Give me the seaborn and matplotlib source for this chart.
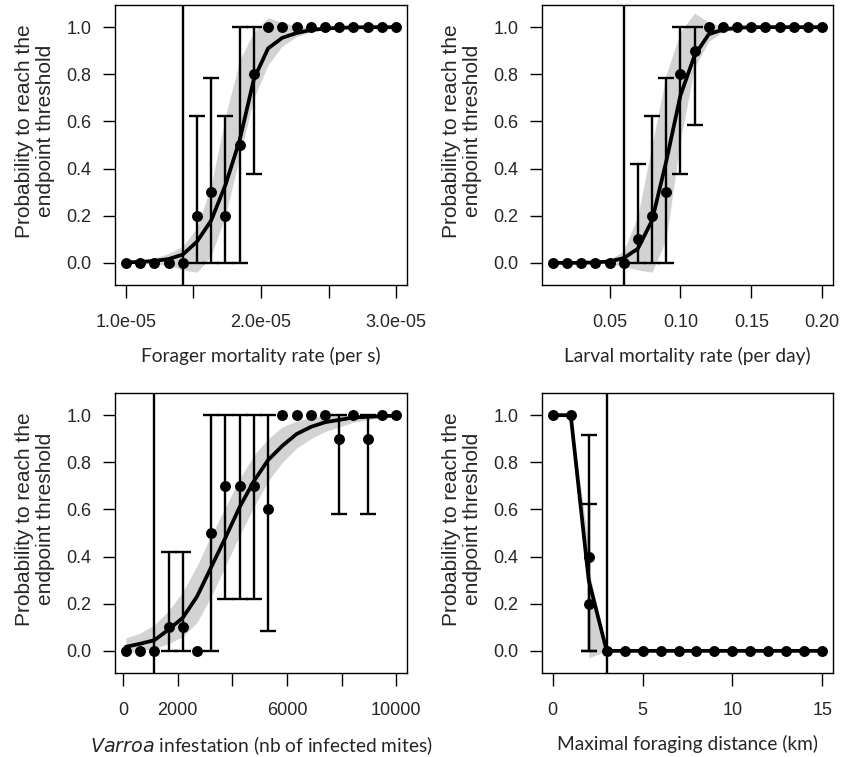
import numpy as np
import pandas as pd
import matplotlib
matplotlib.use("Agg")
import matplotlib.pyplot as plt
import seaborn as sns

# ---- panel 1 : forager mortality rate (per s)
forager_x = [1.0000e-05, 1.1053e-05, 1.2105e-05, 1.3158e-05, 1.4211e-05,
             1.5263e-05, 1.6316e-05, 1.7368e-05, 1.8421e-05, 1.9474e-05,
             2.0526e-05, 2.1579e-05, 2.2632e-05, 2.3684e-05, 2.4737e-05,
             2.5789e-05, 2.6842e-05, 2.7895e-05, 2.8947e-05, 3.0000e-05]
forager_p = [0, 0, 0, 0, 0, 0.2, 0.3, 0.2, 0.5, 0.8,
             1, 1, 1, 1, 1, 1, 1, 1, 1, 1]
forager_lo = [np.nan] * 5 + [0, 0, 0, 0, 0.379] + [np.nan] * 10
forager_hi = [np.nan] * 5 + [0.621, 0.783, 0.621, 1.0, 1.0] + [np.nan] * 10
forager_fit = [0.002, 0.004, 0.008, 0.016, 0.035, 0.09, 0.18, 0.33, 0.52, 0.78,
               0.91, 0.955, 0.975, 0.988, 0.994, 0.997, 0.999, 1, 1, 1]
forager_fit_lo = [0, 0, -0.005, -0.01, -0.03, -0.04, 0.03, 0.2, 0.45, 0.7,
                  0.84, 0.92, 0.96, 0.98, 0.99, 0.995, 1, 1, 1, 1]
forager_fit_hi = [0.004, 0.008, 0.02, 0.04, 0.07, 0.15, 0.33, 0.62, 0.86, 0.98,
                  1.04, 1.02, 1.005, 1, 1, 1, 1, 1, 1, 1]
forager_thr = 1.4211e-05

# ---- panel 2 : larval mortality rate (per day)
larval_x = [0.01, 0.02, 0.03, 0.04, 0.05, 0.06, 0.07, 0.08, 0.09, 0.10,
            0.11, 0.12, 0.13, 0.14, 0.15, 0.16, 0.17, 0.18, 0.19, 0.20]
larval_p = [0, 0, 0, 0, 0, 0, 0.1, 0.2, 0.3, 0.8,
            0.9, 1, 1, 1, 1, 1, 1, 1, 1, 1]
larval_lo = [np.nan] * 6 + [0, 0, 0, 0.379, 0.584] + [np.nan] * 9
larval_hi = [np.nan] * 6 + [0.418, 0.621, 0.783, 1.0, 1.0] + [np.nan] * 9
larval_fit = [0, 0, 0, 0.002, 0.006, 0.02, 0.06, 0.18, 0.43, 0.71,
              0.88, 0.97, 0.99, 0.997, 1, 1, 1, 1, 1, 1]
larval_fit_lo = [0, 0, 0, 0, -0.005, -0.015, -0.03, -0.04, 0.1, 0.52,
                 0.83, 0.94, 0.98, 0.995, 1, 1, 1, 1, 1, 1]
larval_fit_hi = [0, 0, 0, 0.005, 0.015, 0.05, 0.2, 0.5, 0.8, 0.98,
                 1.06, 1.02, 1.005, 1, 1, 1, 1, 1, 1, 1]
larval_thr = 0.06

# ---- panel 3 : Varroa infestation
varroa_x = [100, 621, 1142, 1663, 2184, 2705, 3226, 3747, 4268, 4789,
            5311, 5832, 6353, 6874, 7395, 7916, 8437, 8958, 9479, 10000]
varroa_p = [0, 0, 0, 0.1, 0.1, 0, 0.5, 0.7, 0.7, 0.7,
            0.6, 1, 1, 1, 1, 0.9, 1, 0.9, 1, 1]
varroa_lo = [np.nan, np.nan, np.nan, 0, 0, np.nan, 0, 0.218, 0.218, 0.218,
             0.085, np.nan, np.nan, np.nan, np.nan, 0.582, np.nan, 0.582, np.nan, np.nan]
varroa_hi = [np.nan, np.nan, np.nan, 0.418, 0.418, np.nan, 1, 1, 1, 1,
             1, np.nan, np.nan, np.nan, np.nan, 1, np.nan, 1, np.nan, np.nan]
varroa_fit = [0.017, 0.03, 0.045, 0.09, 0.14, 0.23, 0.355, 0.48, 0.61, 0.72,
              0.81, 0.87, 0.92, 0.95, 0.97, 0.98, 0.99, 0.993, 0.996, 0.998]
varroa_fit_lo = [-0.01, 0.0, 0.01, 0.03, 0.06, 0.12, 0.23, 0.36, 0.49, 0.61,
                 0.72, 0.8, 0.86, 0.9, 0.93, 0.95, 0.97, 0.98, 0.99, 0.99]
varroa_fit_hi = [0.055, 0.075, 0.11, 0.17, 0.25, 0.36, 0.49, 0.61, 0.73, 0.83,
                 0.9, 0.95, 0.975, 0.99, 1, 1, 1, 1, 1, 1]
varroa_thr = 1142

# ---- panel 4 : maximal foraging distance (km)
dist_x = [0, 1, 2, 2, 3, 4, 5, 6, 7, 8, 9, 10, 11, 12, 13, 14, 15]
dist_p = [1, 1, 0.4, 0.2, 0, 0, 0, 0, 0, 0, 0, 0, 0, 0, 0, 0, 0]
dist_lo = [np.nan, np.nan, 0, 0] + [np.nan] * 13
dist_hi = [np.nan, np.nan, 0.915, 0.621] + [np.nan] * 13
dist_fit = [1, 1, 0.3, 0.3, 0, 0, 0, 0, 0, 0, 0, 0, 0, 0, 0, 0, 0]
dist_fit_lo = [1, 1, 0.25, -0.03, 0, 0, 0, 0, 0, 0, 0, 0, 0, 0, 0, 0, 0]
dist_fit_hi = [1, 1, 0.45, 0.35, 0, 0, 0, 0, 0, 0, 0, 0, 0, 0, 0, 0, 0]
dist_thr = 3

ylab = "Probability to reach the\nendpoint threshold"

sns.set_style("ticks")
plt.rcParams['font.family'] = 'sans-serif'
plt.rcParams['font.sans-serif'] = ['Liberation Sans']

fig = plt.figure(figsize=(8.44, 7.57), dpi=100)
W, H = 844, 757


def panel(box, x, p, lo, hi, fit, fit_lo, fit_hi, thr, xlim, xticks, xticklabels, xlabel):
    l, t, r, b = box
    ax = fig.add_axes([l / W, 1 - b / H, (r - l) / W, (b - t) / H])
    df = pd.DataFrame({'x': x, 'p': p, 'lo': lo, 'hi': hi,
                       'fit': fit, 'fit_lo': fit_lo, 'fit_hi': fit_hi})
    ax.fill_between(df['x'], df['fit_lo'], df['fit_hi'], color='#d3d3d3', lw=0, zorder=1)
    sns.lineplot(data=df, x='x', y='fit', ax=ax, color='black', lw=2.7,
                 sort=False, estimator=None, zorder=3)
    eb = df.dropna(subset=['lo'])
    ax.errorbar(eb['x'], eb['p'], yerr=[eb['p'] - eb['lo'], eb['hi'] - eb['p']],
                fmt='none', ecolor='black', elinewidth=1.7, capsize=5.5,
                capthick=1.7, zorder=4)
    sns.scatterplot(data=df, x='x', y='p', ax=ax, color='black', s=62,
                    edgecolor='black', linewidth=0, zorder=5)
    ax.axvline(thr, color='black', lw=1.7, zorder=6)
    ax.set_xlim(*xlim)
    ax.set_ylim(-0.094, 1.094)
    ax.set_xticks(xticks)
    ax.set_xticklabels(xticklabels)
    ax.set_yticks([0, 0.2, 0.4, 0.6, 0.8, 1.0])
    ax.set_yticklabels(['0.0', '0.2', '0.4', '0.6', '0.8', '1.0'])
    ax.tick_params(length=9, width=1, labelsize=13, color='black')
    ax.tick_params(axis='y', pad=8)
    ax.tick_params(axis='x', pad=12)
    for s in ax.spines.values():
        s.set_linewidth(1)
        s.set_color('black')
    ax.set_ylabel(ylab, fontsize=15, linespacing=1.15)
    ax.yaxis.set_label_coords(-0.205, 0.55)
    ax.set_xlabel(xlabel, fontsize=13.8, family=['Lato', 'DejaVu Sans'])
    ax.xaxis.set_label_coords(0.5, -0.22)
    return ax


panel((115, 5, 407, 285), forager_x, forager_p, forager_lo, forager_hi,
      forager_fit, forager_fit_lo, forager_fit_hi, forager_thr,
      (0.92e-05, 3.08e-05),
      [1.0e-05, 1.5e-05, 2.0e-05, 2.5e-05, 3.0e-05],
      ['1.0e-05', '', '2.0e-05', '', '3.0e-05'],
      "Forager mortality rate (per s)")
panel((542, 5, 833, 285), larval_x, larval_p, larval_lo, larval_hi,
      larval_fit, larval_fit_lo, larval_fit_hi, larval_thr,
      (0.0024, 0.2076),
      [0.05, 0.10, 0.15, 0.20],
      ['0.05', '0.10', '0.15', '0.20'],
      "Larval mortality rate (per day)")
panel((115, 393, 407, 673), varroa_x, varroa_p, varroa_lo, varroa_hi,
      varroa_fit, varroa_fit_lo, varroa_fit_hi, varroa_thr,
      (-296, 10396),
      [0, 2000, 4000, 6000, 8000, 10000],
      ['0', '2000', '', '6000', '', '10000'],
      "$\\it{Varroa}$ infestation (nb of infected mites)")
panel((542, 393, 833, 673), dist_x, dist_p, dist_lo, dist_hi,
      dist_fit, dist_fit_lo, dist_fit_hi, dist_thr,
      (-0.6, 15.6),
      [0, 5, 10, 15],
      ['0', '5', '10', '15'],
      "Maximal foraging distance (km)")

plt.savefig('out.png', dpi=100)
